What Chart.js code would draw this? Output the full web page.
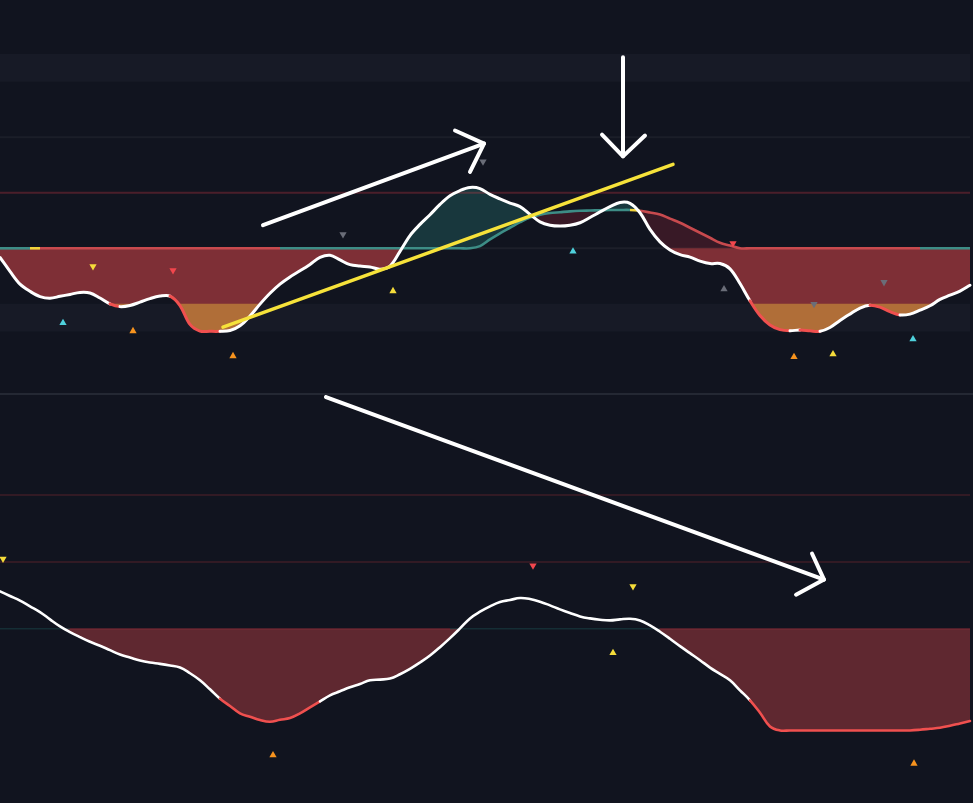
<!DOCTYPE html>
<html>
<head>
<meta charset="utf-8">
<script src="https://cdn.jsdelivr.net/npm/chart.js@4.4.1/dist/chart.umd.min.js"></script>
<style>
  html, body { margin: 0; padding: 0; background: #11141f; }
  #wrap { position: relative; width: 973px; height: 803px; overflow: hidden; background: #11141f; }
  #topBox { position: absolute; left: 0; top: 0; width: 973px; height: 393px; }
  #sep { position: absolute; left: 0; top: 393px; width: 973px; height: 2px; background: #242833; }
  #botBox { position: absolute; left: 0; top: 395px; width: 973px; height: 408px; }
  canvas { display: block; }
</style>
</head>
<body>
<div id="wrap">
  <div id="topBox"><canvas id="topChart" width="973" height="393"></canvas></div>
  <div id="sep"></div>
  <div id="botBox"><canvas id="botChart" width="973" height="408"></canvas></div>
</div>
<script>
// ---------- DATA ----------
// bar index (one bar per ~10 px of the picture)
const bars = Array.from({length: 98}, (_, i) => i);

// upper oscillator (white line)
const topWave = [-3.3,-8.3,-12.9,-15.5,-17.4,-18.0,-17.3,-16.6,-15.9,-16.1,
 -17.9,-20.0,-21.0,-20.6,-19.4,-18.1,-17.2,-17.2,-20.6,-27.4,
 -29.8,-29.9,-29.9,-29.6,-27.9,-24.4,-20.1,-16.2,-12.9,-10.3,
 -8.1,-5.8,-3.3,-2.5,-4.2,-5.9,-6.4,-6.7,-7.5,-6.4,
 -1.1,4.6,8.6,12.1,15.8,18.9,20.8,21.9,21.5,19.4,
 17.8,16.3,15.0,12.2,9.5,8.3,8.0,8.3,9.2,11.1,
 13.1,15.0,16.5,16.2,12.8,6.8,2.3,-0.6,-2.3,-3.2,
 -4.6,-5.5,-5.5,-7.4,-12.7,-18.9,-24.2,-27.6,-29.3,-29.7,
 -29.4,-29.7,-29.9,-28.5,-26.0,-23.7,-21.5,-20.5,-21.2,-22.8,
 -24.0,-23.7,-22.3,-20.7,-18.4,-16.9,-15.4,-13.3];

// upper signal line
const topSignal = [0,0,0,0,0,0,0,0,0,0,
 0,0,0,0,0,0,0,0,0,0,
 0,0,0,0,0,0,0,0,0,0,
 0,0,0,0,0,0,0,0,0,0,
 0,0,0,0,0,0,0,0,0.8,3.2,
 5.4,7.4,9.4,11.1,12.1,12.7,13.0,13.3,13.5,13.6,
 13.7,13.8,13.8,13.8,13.5,12.9,12.2,10.7,9.2,7.4,
 5.6,3.8,2.0,1.0,0,0,0,0,0,0,
 0,0,0,0,0,0,0,0,0,0,
 0,0,0,0,0,0,0,0];

// signal state: 1 bullish, 0 neutral, -1 bearish
const signalState = [1,1,1,0,-1,-1,-1,-1,-1,-1,
 -1,-1,-1,-1,-1,-1,-1,-1,-1,-1,
 -1,-1,-1,-1,-1,-1,-1,-1,1,1,
 1,1,1,1,1,1,1,1,1,1,
 1,1,1,1,1,1,1,1,1,1,
 1,1,1,1,1,1,1,1,1,1,
 1,1,1,0,-1,-1,-1,-1,-1,-1,
 -1,-1,-1,-1,-1,-1,-1,-1,-1,-1,
 -1,-1,-1,-1,-1,-1,-1,-1,-1,-1,
 -1,-1,1,1,1,1,1,1];

// lower oscillator (white line)
const botWave = [11.2,9.8,8.4,6.7,5.0,2.8,0.7,-1.0,-2.5,-3.9,
 -5.1,-6.4,-7.7,-8.6,-9.5,-10.1,-10.5,-11.0,-11.6,-13.3,
 -15.4,-18.1,-20.9,-23.1,-25.3,-26.3,-27.3,-27.8,-27.2,-26.7,
 -25.3,-23.5,-21.7,-19.9,-18.7,-17.5,-16.5,-15.4,-15.2,-14.9,
 -13.6,-12.0,-10.1,-8.0,-5.5,-2.8,0.1,3.1,5.1,6.7,
 8.0,8.6,9.2,8.9,8.1,7.0,5.8,4.7,3.7,3.1,
 2.7,2.5,2.8,3.0,2.5,1.0,-0.9,-3.0,-5.2,-7.3,
 -9.4,-11.6,-13.5,-15.4,-18.4,-21.4,-25.1,-29.2,-30.4,-30.4,
 -30.4,-30.4,-30.4,-30.4,-30.4,-30.4,-30.4,-30.4,-30.4,-30.4,
 -30.4,-30.4,-30.2,-29.9,-29.6,-29.0,-28.3,-27.6];

// levels
const topLevels = [20, 40];
const topZoneHigh = [60, 70];
const topZoneLow = [-30, -20];
const extremeLevel = -20;
const botLevels = [20, 40];

// signal markers (bar index, value)
const topUpCyan   = [{x:6.3,y:-26.9},{x:57.3,y:-1.1},{x:91.3,y:-32.7}];
const topUpOrange = [{x:13.3,y:-29.8},{x:23.3,y:-38.8},{x:79.4,y:-39.1}];
const topUpYellow = [{x:39.3,y:-15.4},{x:83.3,y:-38.1}];
const topUpGray   = [{x:72.4,y:-14.7}];
const topDnYellow = [{x:9.3,y:-6.5}];
const topDnRed    = [{x:17.3,y:-7.9},{x:73.3,y:1.8}];
const topDnGray   = [{x:34.3,y:5.0},{x:48.3,y:31.2},{x:81.4,y:-20.1},{x:88.4,y:-12.2}];

const botDnYellow = [{x:0.3,y:20.9},{x:63.3,y:12.7}];
const botDnRed    = [{x:53.3,y:18.9}];
const botUpYellow = [{x:61.3,y:-7.2}];
const botUpOrange = [{x:27.3,y:-37.8},{x:91.4,y:-40.3}];

// hand-drawn annotations (bar index, value)
const trendLine    = [{x:22.3,y:-28.4},{x:67.3,y:30.2}];
const arrowUpShaft = [{x:26.3,y:8.3},{x:48.4,y:37.7}];
const arrowUpHead  = [{x:45.5,y:42.4},{x:48.4,y:37.7},{x:47.0,y:27.5}];
const arrowDnShaft = [{x:62.3,y:68.8},{x:62.3,y:33.1}];
const arrowDnHead  = [{x:60.2,y:40.9},{x:62.3,y:33.1},{x:64.5,y:40.6}];
const arrowBotShaft= [{x:32.6,y:69.3},{x:82.4,y:14.7}];
const arrowBotHead = [{x:81.2,y:22.5},{x:82.4,y:14.7},{x:79.6,y:10.2}];

// ---------- HELPERS ----------
const pts = arr => arr.map((v, i) => ({x: bars[i], y: v}));
const flat = v => bars.map(i => ({x: i, y: v}));

const C = {
  white: '#ffffff',
  redLine: '#f0504f',
  teal: '#3d8d86',
  sigRed: '#c84a4e',
  sigYellow: '#f2d33b',
  redFill: '#7e2f36',
  orangeFill: '#b06e38',
  tealFill: 'rgba(38,120,118,0.35)',
  darkRedFill: 'rgba(150,40,55,0.30)',
  band: '#171a26',
  botFill: '#5f2830'
};
const WAVE_TENSION = 0.35;
const BOT_TENSION = 0.4;

function lineDs(data, extra) {
  return Object.assign({
    type: 'line', data: data, pointRadius: 0, borderWidth: 0,
    borderColor: 'transparent', fill: false, tension: 0
  }, extra);
}
function markerDs(data, color, down) {
  return {
    type: 'line', data: data, showLine: false, pointStyle: 'triangle',
    pointRadius: 4.2, pointRotation: down ? 180 : 0, pointBackgroundColor: color,
    pointBorderWidth: 0, pointBorderColor: color, order: 2
  };
}
function strokeDs(data, color, width) {
  return {
    type: 'line', data: data, pointRadius: 0, borderColor: color, borderWidth: width,
    borderCapStyle: 'round', borderJoinStyle: 'round', fill: false, tension: 0, order: 1
  };
}

const commonOpts = (ymin, ymax) => ({
  responsive: false, animation: false, events: [],
  layout: {padding: 0, autoPadding: false},
  plugins: {legend: {display: false}, tooltip: {enabled: false}},
  scales: {
    x: {type: 'linear', min: 0, max: 97.3, display: false},
    y: {type: 'linear', min: ymin, max: ymax, display: false}
  }
});

// ---------- TOP PANEL ----------
new Chart(document.getElementById('topChart'), {
  type: 'line',
  data: {
    datasets: [
      // 0 hidden copy of oscillator: fill target (no segments -> no seams)
      lineDs(pts(topWave), {tension: WAVE_TENSION, order: 20}),
      // 1 fill between signal and oscillator
      lineDs(pts(topSignal), {
        tension: WAVE_TENSION, order: 8,
        fill: {target: 0, above: C.darkRedFill, below: C.tealFill}
      }),
      // 2 zero to oscillator (below zero)
      lineDs(flat(0), {order: 7, fill: {target: 0, above: C.redFill, below: 'transparent'}}),
      // 3 extreme level to oscillator
      lineDs(flat(extremeLevel), {order: 6, fill: {target: 0, above: C.orangeFill, below: 'transparent'}}),
      // 4 signal line
      lineDs(pts(topSignal), {
        borderWidth: 2.6, borderColor: C.teal, tension: WAVE_TENSION, order: 4,
        segment: {
          borderColor: ctx => {
            const s = signalState[ctx.p0DataIndex];
            return s > 0 ? C.teal : (s < 0 ? C.sigRed : C.sigYellow);
          }
        }
      }),
      // 5,6 upper zone
      lineDs(flat(topZoneHigh[1]), {order: 10, fill: {target: 6, above: C.band, below: C.band}}),
      lineDs(flat(topZoneHigh[0]), {order: 10}),
      // 7,8 lower zone
      lineDs(flat(topZoneLow[1]), {order: 10, fill: {target: 8, above: C.band, below: C.band}}),
      lineDs(flat(topZoneLow[0]), {order: 10}),
      // 9 level 20
      lineDs(flat(topLevels[0]), {borderWidth: 2, borderColor: 'rgba(242,60,72,0.26)', order: 5}),
      // 10 level 40
      lineDs(flat(topLevels[1]), {borderWidth: 2, borderColor: 'rgba(255,255,255,0.045)', order: 9}),
      // 11 zero faint line
      lineDs(flat(0), {borderWidth: 2, borderColor: 'rgba(255,255,255,0.05)', order: 9}),
      // 12 visible oscillator line
      lineDs(pts(topWave), {
        borderWidth: 3, borderColor: C.white, tension: WAVE_TENSION, order: 3,
        borderCapStyle: 'round', borderJoinStyle: 'round',
        segment: {
          borderColor: ctx => (ctx.p1.parsed.y < extremeLevel && ctx.p1.parsed.y <= ctx.p0.parsed.y) ? C.redLine : C.white
        }
      }),
      // markers
      markerDs(topUpCyan, '#4fd1dc', false),
      markerDs(topUpOrange, '#f7931e', false),
      markerDs(topUpYellow, '#f5dc3a', false),
      markerDs(topUpGray, '#6a6d78', false),
      markerDs(topDnYellow, '#f5dc3a', true),
      markerDs(topDnRed, '#f2464d', true),
      markerDs(topDnGray, '#6a6d78', true),
      // annotations
      strokeDs(trendLine, '#f6e23a', 3.5),
      strokeDs(arrowUpShaft, '#ffffff', 4),
      strokeDs(arrowUpHead, '#ffffff', 4),
      strokeDs(arrowDnShaft, '#ffffff', 4),
      strokeDs(arrowDnHead, '#ffffff', 4)
    ]
  },
  options: commonOpts(-52.1, 89.4)
});

// ---------- BOTTOM PANEL ----------
new Chart(document.getElementById('botChart'), {
  type: 'line',
  data: {
    datasets: [
      // 0 hidden copy of oscillator (fill target)
      lineDs(pts(botWave), {tension: BOT_TENSION, order: 20}),
      // 1 zero to oscillator
      lineDs(flat(0), {order: 7, fill: {target: 0, above: C.botFill, below: 'transparent'}}),
      // 2 zero line
      lineDs(flat(0), {
        borderWidth: 1.5, borderColor: 'rgba(38,140,130,0.22)', order: 6,
        segment: {
          borderColor: ctx => (botWave[ctx.p0DataIndex] < 0 && botWave[ctx.p1DataIndex] < 0) ? 'rgba(242,60,72,0.22)' : 'rgba(38,140,130,0.22)'
        }
      }),
      // 3,4 levels
      lineDs(flat(botLevels[0]), {borderWidth: 1.5, borderColor: 'rgba(242,60,72,0.2)', order: 5}),
      lineDs(flat(botLevels[1]), {borderWidth: 1.5, borderColor: 'rgba(242,60,72,0.2)', order: 5}),
      // 5 visible oscillator
      lineDs(pts(botWave), {
        borderWidth: 2.6, borderColor: C.white, tension: BOT_TENSION, order: 3,
        borderCapStyle: 'round',
        segment: {
          borderColor: ctx => (ctx.p0.parsed.y < extremeLevel && ctx.p1.parsed.y < extremeLevel) ? C.redLine : C.white
        }
      }),
      // markers
      markerDs(botDnYellow, '#f5dc3a', true),
      markerDs(botDnRed, '#f2464d', true),
      markerDs(botUpYellow, '#f5dc3a', false),
      markerDs(botUpOrange, '#f7931e', false),
      // annotation arrow
      strokeDs(arrowBotShaft, '#ffffff', 4),
      strokeDs(arrowBotHead, '#ffffff', 4)
    ]
  },
  options: commonOpts(-52.1, 69.9)
});
</script>
</body>
</html>
